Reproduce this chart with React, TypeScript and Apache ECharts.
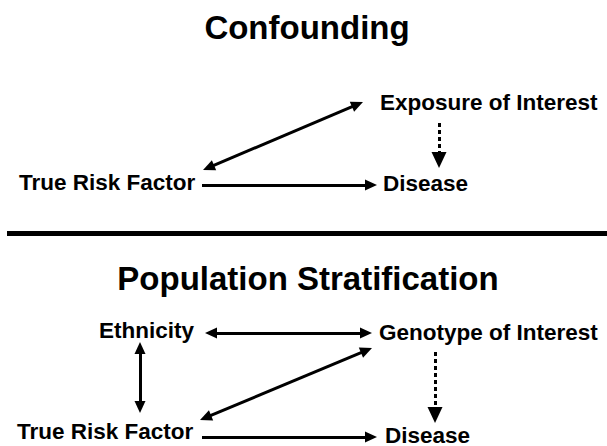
import React, { useEffect, useRef } from "react";
import * as echarts from "echarts";

// ---- Data ----
const titleTexts = ["Confounding", "Population Stratification"];
const titleX = [307, 308];
const titleY = [27, 278];

const labelTexts = [
  "Exposure of Interest",
  "True Risk Factor",
  "Disease",
  "Ethnicity",
  "Genotype of Interest",
  "True Risk Factor",
  "Disease",
];
const labelX = [380, 19, 383, 99, 379, 17, 385];
const labelY = [102, 182, 183, 330, 332, 431, 435];

// arrows (tip to tip)
const arrowStart = [
  [203, 170], [202, 185], [439, 123],
  [205, 333], [140, 342], [200, 420], [202, 437], [435, 352],
];
const arrowEnd = [
  [363, 102], [377, 185], [439, 168],
  [372, 333], [140, 413], [372, 348], [377, 437], [435, 423],
];
const arrowBoth = [true, false, false, true, true, true, false, false];
const arrowDotted = [false, false, true, false, false, false, false, true];

const ruleStart = [7, 233.5];
const ruleEnd = [607, 233.5];

const FONT = "'Liberation Sans', Arial, Helvetica, sans-serif";

export default function App() {
  const ref = useRef<HTMLDivElement>(null);
  useEffect(() => {
    if (!ref.current) return;
    const chart = echarts.init(ref.current, null, { renderer: "svg" });

    const nodes: any[] = [];
    const links: any[] = [];

    titleTexts.forEach((t, i) => {
      nodes.push({
        id: "title" + i,
        name: t,
        value: [titleX[i], titleY[i]],
        label: {
          show: true,
          position: "inside",
          align: "center",
          verticalAlign: "middle",
          formatter: t,
          fontSize: 33,
          fontWeight: "bold",
          fontFamily: FONT,
          color: "#000",
        },
      });
    });

    labelTexts.forEach((t, i) => {
      nodes.push({
        id: "label" + i,
        name: t,
        value: [labelX[i], labelY[i]],
        label: {
          show: true,
          position: "inside",
          align: "left",
          verticalAlign: "middle",
          formatter: t,
          fontSize: 22.5,
          fontWeight: "bold",
          fontFamily: FONT,
          color: "#000",
        },
      });
    });

    arrowStart.forEach((s, i) => {
      const e = arrowEnd[i];
      const dotted = arrowDotted[i];
      const size: [number, number] = dotted ? [15, 16] : [11, 12];
      const L = size[1];
      const dx = e[0] - s[0];
      const dy = e[1] - s[1];
      const len = Math.hypot(dx, dy);
      const ux = dx / len;
      const uy = dy / len;
      const sx = arrowBoth[i] ? s[0] + ux * L / 2 : s[0];
      const sy = arrowBoth[i] ? s[1] + uy * L / 2 : s[1];
      const ex = e[0] - ux * L / 2;
      const ey = e[1] - uy * L / 2;
      const a = nodes.length;
      nodes.push({ id: "as" + i, name: "", value: [sx, sy], label: { show: false } });
      nodes.push({ id: "ae" + i, name: "", value: [ex, ey], label: { show: false } });
      links.push({
        source: a,
        target: a + 1,
        symbol: [arrowBoth[i] ? "triangle" : "none", "triangle"],
        symbolSize: [size, size],
        lineStyle: {
          color: "#000",
          width: 3,
          type: dotted ? [4, 3] : "solid",
          opacity: 1,
        },
      });
    });

    const r = nodes.length;
    nodes.push({ id: "rs", name: "", value: ruleStart, label: { show: false } });
    nodes.push({ id: "re", name: "", value: ruleEnd, label: { show: false } });
    links.push({
      source: r,
      target: r + 1,
      symbol: ["none", "none"],
      lineStyle: { color: "#000", width: 5, type: "solid", opacity: 1 },
    });

    chart.setOption({
      animation: false,
      backgroundColor: "#fff",
      grid: { left: 0, right: 0, top: 0, bottom: 0 },
      xAxis: { type: "value", min: 0, max: 607, show: false },
      yAxis: { type: "value", min: 0, max: 446, inverse: true, show: false },
      series: [
        {
          type: "graph",
          coordinateSystem: "cartesian2d",
          layout: "none",
          silent: true,
          symbolSize: 0,
          itemStyle: { color: "rgba(0,0,0,0)", borderWidth: 0 },
          emphasis: { disabled: true },
          labelLayout: { hideOverlap: false },
          data: nodes,
          links: links,
        },
      ],
    });

    return () => chart.dispose();
  }, []);

  return (
    <div
      ref={ref}
      style={{
        position: "fixed",
        left: 0,
        top: 0,
        width: 607,
        height: 446,
        background: "#fff",
      }}
    />
  );
}
